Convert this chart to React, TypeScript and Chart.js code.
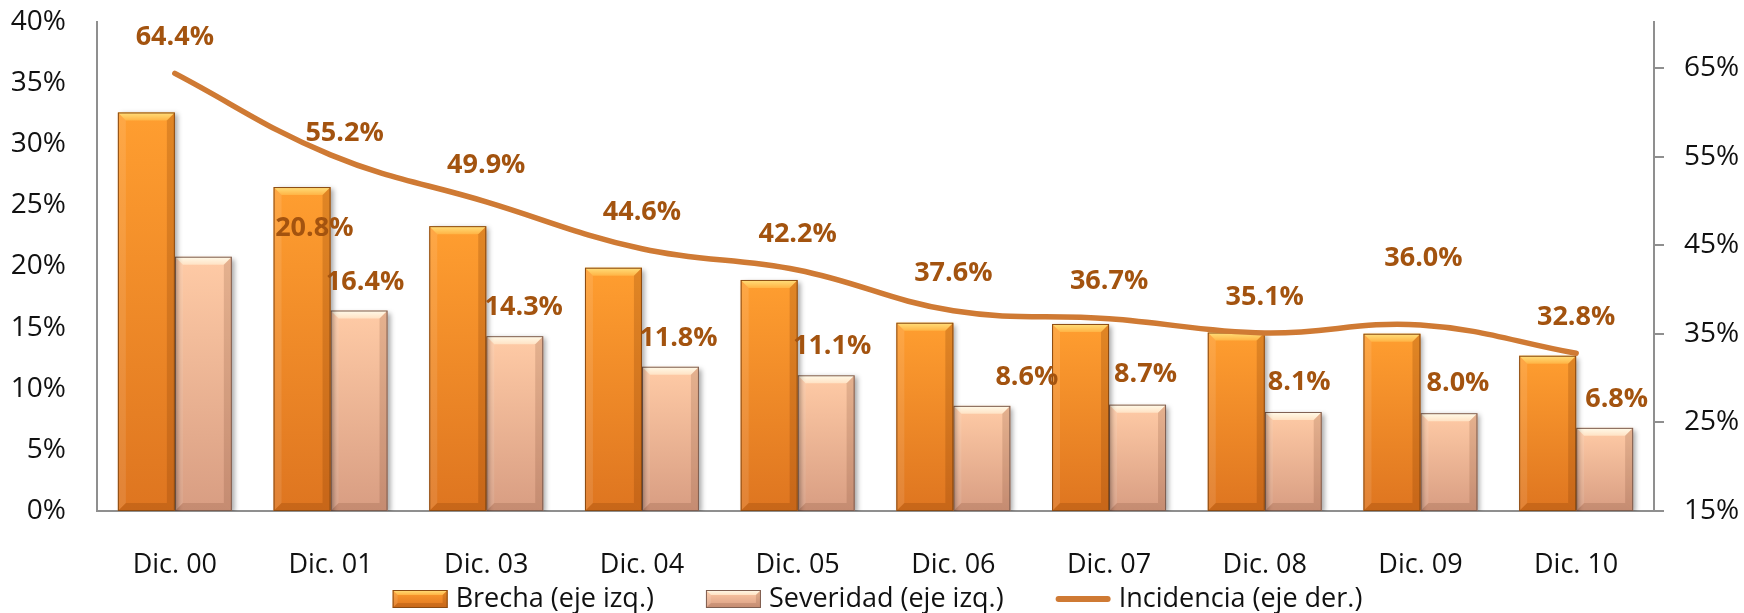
import { useEffect, useRef } from 'react';
import { Chart, registerables } from 'chart.js';

Chart.register(...registerables);

// ---------- data ----------
const categories = ['Dic. 00', 'Dic. 01', 'Dic. 03', 'Dic. 04', 'Dic. 05', 'Dic. 06', 'Dic. 07', 'Dic. 08', 'Dic. 09', 'Dic. 10'];
const brecha = [32.6, 26.5, 23.3, 19.9, 18.9, 15.4, 15.3, 14.6, 14.5, 12.7];
const severidad = [20.8, 16.4, 14.3, 11.8, 11.1, 8.6, 8.7, 8.1, 8.0, 6.8];
const incidencia = [64.4, 55.2, 49.9, 44.6, 42.2, 37.6, 36.7, 35.1, 36.0, 32.8];
const leftTicks = [0, 5, 10, 15, 20, 25, 30, 35, 40];
const rightTicks = [15, 25, 35, 45, 55, 65];
const seriesNames = ['Brecha (eje izq.)', 'Severidad (eje izq.)', 'Incidencia (eje der.)'];

// ---------- style ----------
const FONT = '"Open Sans", "DejaVu Sans", sans-serif';
const LABEL_COLOR = '#A3530F';
const LINE_COLOR = '#CF7A34';
const AXIS_COLOR = '#8F8F8F';
// label nudges in px: [dx, dy above the point / bar top]
const incNudge = [[0, 36], [14, 22], [0, 37], [0, 36], [0, 36], [0, 37], [0, 37], [0, 36], [3, 67], [0, 36]];
const sevNudge = [[111, 28], [6, 28], [9, 29], [8, 28], [6, 29], [45, 29], [8, 30], [6, 30], [9, 30], [12, 29]];

const barStyles: Record<number, any> = {
  1: { top: '#FF9E30', bottom: '#DE7520', bevelA: '#FFE07C', bevelB: '#FFB445', edge: '#8A4A12', side: 'rgba(120,50,0,0.22)' },
  2: { top: '#FFCBA6', bottom: '#D89D82', bevelA: '#FFFBEA', bevelB: '#FFE2C4', edge: '#7E5E50', side: 'rgba(110,60,40,0.18)' },
};

function barFill(top: string, bottom: string) {
  return (c: any) => {
    const chart = c.chart;
    if (!chart.chartArea || c.raw == null) return bottom;
    const ys = chart.scales.y;
    const yTop = ys.getPixelForValue(c.raw);
    const yBase = ys.getPixelForValue(0);
    if (!isFinite(yTop) || !isFinite(yBase)) return bottom;
    const g = chart.ctx.createLinearGradient(0, yTop, 0, yBase);
    g.addColorStop(0, top);
    g.addColorStop(1, bottom);
    return g;
  };
}

function drawBevel(ctx: CanvasRenderingContext2D, l: number, t: number, r: number, b: number, st: any, bv = 8) {
  const w = r - l;
  const h = b - t;
  const k = Math.min(bv, w / 3, h / 2);
  const g = ctx.createLinearGradient(0, t, 0, t + k);
  g.addColorStop(0, st.bevelA);
  g.addColorStop(1, st.bevelB);
  ctx.fillStyle = g;
  ctx.beginPath();
  ctx.moveTo(l, t); ctx.lineTo(r, t); ctx.lineTo(r - k, t + k); ctx.lineTo(l + k, t + k); ctx.closePath();
  ctx.fill();
  ctx.fillStyle = 'rgba(255,255,255,0.10)';
  ctx.beginPath();
  ctx.moveTo(l, t); ctx.lineTo(l + k, t + k); ctx.lineTo(l + k, b - k); ctx.lineTo(l, b); ctx.closePath();
  ctx.fill();
  ctx.fillStyle = st.side;
  ctx.beginPath();
  ctx.moveTo(r, t); ctx.lineTo(r - k, t + k); ctx.lineTo(r - k, b - k); ctx.lineTo(r, b); ctx.closePath();
  ctx.fill();
  ctx.beginPath();
  ctx.moveTo(l, b); ctx.lineTo(l + k, b - k); ctx.lineTo(r - k, b - k); ctx.lineTo(r, b); ctx.closePath();
  ctx.fill();
  ctx.strokeStyle = st.edge;
  ctx.lineWidth = 1;
  ctx.strokeRect(l + 0.5, t + 0.5, w - 1, h - 1);
}

const bevelPlugin = {
  id: 'bevel',
  beforeDatasetDraw(chart: any, args: any) {
    if (!barStyles[args.index]) return;
    const ctx = chart.ctx;
    ctx.save();
    ctx.shadowColor = 'rgba(0,0,0,0.35)';
    ctx.shadowBlur = 5;
    ctx.shadowOffsetX = 3;
    ctx.shadowOffsetY = 2;
  },
  afterDatasetDraw(chart: any, args: any) {
    const st = barStyles[args.index];
    if (!st) return;
    const ctx = chart.ctx;
    ctx.restore();
    ctx.save();
    args.meta.data.forEach((el: any) => {
      const p = el.getProps(['x', 'y', 'base', 'width'], true);
      drawBevel(ctx, p.x - p.width / 2, p.y, p.x + p.width / 2, p.base, st);
    });
    ctx.restore();
  },
};

const labelPlugin = {
  id: 'valueLabels',
  afterDatasetsDraw(chart: any) {
    const ctx = chart.ctx;
    ctx.save();
    ctx.font = `bold 27px ${FONT}`;
    ctx.fillStyle = LABEL_COLOR;
    ctx.textAlign = 'center';
    ctx.textBaseline = 'middle';
    const sevMeta = chart.getDatasetMeta(2);
    sevMeta.data.forEach((el: any, i: number) => {
      const p = el.getProps(['x', 'y'], true);
      ctx.fillText(severidad[i].toFixed(1) + '%', p.x + sevNudge[i][0], p.y - sevNudge[i][1]);
    });
    const incMeta = chart.getDatasetMeta(0);
    incMeta.data.forEach((el: any, i: number) => {
      const p = el.getProps(['x', 'y'], true);
      ctx.fillText(incidencia[i].toFixed(1) + '%', p.x + incNudge[i][0], p.y - incNudge[i][1]);
    });
    ctx.restore();
  },
};

const legendPlugin = {
  id: 'customLegend',
  afterDraw(chart: any) {
    const ctx = chart.ctx;
    ctx.save();
    ctx.font = `27px ${FONT}`;
    const boxW = 55, boxH = 18, gapText = 8, gapItem = 52;
    const widths = seriesNames.map((n) => ctx.measureText(n).width);
    const total = widths.reduce((a, w) => a + boxW + gapText + w, 0) + gapItem * (seriesNames.length - 1);
    const area = chart.chartArea;
    let x = (area.left + area.right) / 2 + 2 - total / 2;
    const yc = chart.height - 14;
    seriesNames.forEach((name, i) => {
      if (i < 2) {
        const st = barStyles[i + 1];
        const g = ctx.createLinearGradient(0, yc - boxH / 2, 0, yc + boxH / 2);
        g.addColorStop(0, st.top);
        g.addColorStop(1, st.bottom);
        ctx.fillStyle = g;
        ctx.fillRect(x, yc - boxH / 2, boxW, boxH);
        drawBevel(ctx, x, yc - boxH / 2, x + boxW, yc + boxH / 2, st, 5);
      } else {
        ctx.strokeStyle = LINE_COLOR;
        ctx.lineWidth = 6;
        ctx.lineCap = 'round';
        ctx.beginPath();
        ctx.moveTo(x + 3, yc);
        ctx.lineTo(x + boxW - 3, yc);
        ctx.stroke();
      }
      x += boxW + gapText;
      ctx.fillStyle = '#111';
      ctx.textAlign = 'left';
      ctx.textBaseline = 'middle';
      ctx.fillText(name, x, yc);
      x += widths[i] + gapItem;
    });
    ctx.restore();
  },
};

const noPad = (s: any) => {
  s.paddingTop = 0;
  s.paddingBottom = 0;
  s.paddingLeft = 0;
  s.paddingRight = 0;
};

export default function App() {
  const ref = useRef<HTMLCanvasElement | null>(null);

  useEffect(() => {
    document.body.style.margin = '0';
    const canvas = ref.current;
    if (!canvas) return;
    const chart = new Chart(canvas, {
      type: 'bar',
      data: {
        labels: categories,
        datasets: [
          {
            type: 'line',
            label: seriesNames[2],
            data: incidencia,
            yAxisID: 'y1',
            borderColor: LINE_COLOR,
            backgroundColor: LINE_COLOR,
            borderWidth: 5.5,
            borderCapStyle: 'round',
            tension: 0.4,
            pointRadius: 0,
            pointHoverRadius: 0,
            fill: false,
            order: 0,
          } as any,
          {
            type: 'bar',
            label: seriesNames[0],
            data: brecha,
            yAxisID: 'y',
            backgroundColor: barFill(barStyles[1].top, barStyles[1].bottom),
            borderWidth: 0,
            categoryPercentage: 0.732,
            barPercentage: 1,
            order: 1,
          } as any,
          {
            type: 'bar',
            label: seriesNames[1],
            data: severidad,
            yAxisID: 'y',
            backgroundColor: barFill(barStyles[2].top, barStyles[2].bottom),
            borderWidth: 0,
            categoryPercentage: 0.732,
            barPercentage: 1,
            order: 2,
          } as any,
        ],
      },
      options: {
        responsive: false,
        animation: false,
        layout: { padding: { top: 22, left: 0, right: 0, bottom: 0 } },
        plugins: {
          legend: { display: false },
          tooltip: { enabled: false },
        },
        scales: {
          x: {
            type: 'category',
            offset: true,
            grid: { display: false, drawTicks: false },
            border: { display: true, color: AXIS_COLOR, width: 2 },
            ticks: { font: { family: FONT, size: 27 }, color: '#111', padding: 38, maxRotation: 0, autoSkip: false },
            afterFit: (s: any) => { s.height = 102; noPad(s); },
          },
          y: {
            position: 'left',
            min: 0,
            max: 40,
            afterBuildTicks: (s: any) => { s.ticks = leftTicks.map((v) => ({ value: v })); },
            grid: { display: false, drawTicks: false },
            border: { display: true, color: AXIS_COLOR, width: 2 },
            ticks: { font: { family: FONT, size: 28 }, color: '#111', padding: 31, callback: (v: any) => v + '%' },
            afterFit: (s: any) => { s.width = 97; noPad(s); },
          },
          y1: {
            position: 'right',
            min: 15,
            max: 70.2,
            afterBuildTicks: (s: any) => { s.ticks = rightTicks.map((v) => ({ value: v })); },
            grid: { drawOnChartArea: false, drawTicks: true, tickLength: 10, color: AXIS_COLOR, lineWidth: 2 },
            border: { display: true, color: AXIS_COLOR, width: 2 },
            ticks: { font: { family: FONT, size: 28 }, color: '#111', padding: 20, callback: (v: any) => v + '%' },
            afterFit: (s: any) => { s.width = 90; noPad(s); },
          },
        },
      },
      plugins: [bevelPlugin, labelPlugin, legendPlugin],
    });
    return () => chart.destroy();
  }, []);

  return <canvas ref={ref} width={1744} height={613} style={{ display: 'block' }} />;
}
